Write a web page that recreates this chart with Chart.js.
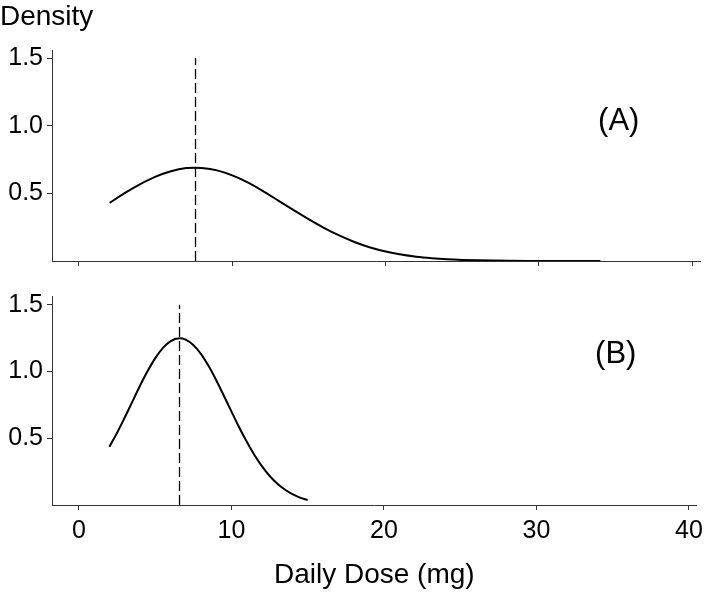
<!DOCTYPE html>
<html>
<head>
<meta charset="utf-8">
<script src="https://cdn.jsdelivr.net/npm/chart.js@4.4.1/dist/chart.umd.min.js"></script>
<style>
  body { margin: 0; background: #fff; }
  .panel { position: absolute; left: 0; width: 709px; }
</style>
</head>
<body>
<div class="panel" style="top:0;height:280px"><canvas id="chartA"></canvas></div>
<div class="panel" style="top:270px;height:322px"><canvas id="chartB"></canvas></div>
<script>
// --- Datos ---
const doseA = [2, 3, 4, 5, 6, 7, 7.6, 8, 9, 10, 11, 12, 13, 14, 15, 16, 17, 18, 19, 20, 21, 22, 23, 24, 25, 26, 28, 30, 32, 34];
const densityA = [0.43, 0.504, 0.569, 0.624, 0.664, 0.687, 0.69, 0.688, 0.67, 0.633, 0.581, 0.517, 0.447, 0.376, 0.307, 0.243, 0.187, 0.139, 0.1, 0.07, 0.048, 0.032, 0.021, 0.013, 0.008, 0.005, 0.0015, 0.0004, 0.0001, 0];
const doseB = [2, 2.5, 3, 3.5, 4, 4.5, 5, 5.5, 6, 6.6, 7, 7.5, 8, 8.5, 9, 9.5, 10, 10.5, 11, 11.5, 12, 12.5, 13, 13.5, 14, 14.5, 15];
const densityB = [0.436, 0.539, 0.653, 0.772, 0.891, 1.001, 1.098, 1.175, 1.226, 1.248, 1.238, 1.198, 1.132, 1.042, 0.936, 0.82, 0.701, 0.584, 0.475, 0.376, 0.291, 0.219, 0.161, 0.116, 0.081, 0.055, 0.037];
const medianA = 7.6;
const medianB = 6.6;
const xTicks = [0, 10, 20, 30, 40];
const yTicks = [0.5, 1.0, 1.5];
const panelLabels = ['(A)', '(B)'];

const FONT = "'Liberation Sans', Arial, sans-serif";
const INK = '#000';
const AXIS = '#333';

function pts(xs, ys) { return xs.map((x, i) => ({ x: x, y: ys[i] })); }

// Etiqueta de panel y texto "Density"
const textPlugin = {
    id: 'textos',
    afterDraw(chart, args, opts) {
        const ctx = chart.ctx;
        const xs = chart.scales.x, ys = chart.scales.y;
        ctx.save();
        ctx.fillStyle = INK;
        ctx.font = '31px ' + FONT;
        ctx.textAlign = 'center';
        ctx.textBaseline = 'middle';
        ctx.fillText(opts.label, xs.getPixelForValue(35.2), ys.getPixelForValue(opts.labelY));
        if (opts.title) {
            ctx.font = '28px ' + FONT;
            ctx.textAlign = 'left';
            ctx.textBaseline = 'alphabetic';
            ctx.fillText(opts.title, 0, 25);
        }
        ctx.restore();
    }
};

function crearPanel(id, xs, ys, median, yMax, padTop, xHeight, showX, label, labelY, title) {
    return new Chart(document.getElementById(id), {
        type: 'line',
        data: {
            datasets: [
                {
                    data: pts(xs, ys),
                    borderColor: INK, borderWidth: 2, pointRadius: 0,
                    cubicInterpolationMode: 'monotone', fill: false
                },
                {
                    data: pts([median, median], [0, 1.5]),
                    borderColor: INK, borderWidth: 1.3, borderDash: [10, 4], pointRadius: 0, fill: false
                }
            ]
        },
        options: {
            responsive: true, maintainAspectRatio: false, animation: false,
            layout: { padding: { top: padTop, right: 9, left: 0, bottom: 0 } },
            plugins: {
                legend: { display: false }, tooltip: { enabled: false },
                textos: { label: label, labelY: labelY, title: title }
            },
            scales: {
                x: {
                    type: 'linear', min: -1.76, max: 40.5,
                    afterBuildTicks: s => { s.ticks = xTicks.map(v => ({ value: v })); },
                    afterFit: s => { s.height = xHeight; },
                    border: { display: true, color: AXIS, width: 1 },
                    grid: { drawOnChartArea: false, drawTicks: true, tickLength: 5, color: AXIS },
                    ticks: { display: showX, color: INK, padding: 6, maxRotation: 0, font: { size: 25, family: FONT } },
                    title: { display: showX, text: 'Daily Dose (mg)', color: INK, padding: { top: 10, bottom: 0 }, font: { size: 28, family: FONT } }
                },
                y: {
                    type: 'linear', min: 0, max: yMax,
                    afterBuildTicks: s => { s.ticks = yTicks.map(v => ({ value: v })); },
                    afterFit: s => { s.width = 52; },
                    border: { display: true, color: AXIS, width: 1 },
                    grid: { drawOnChartArea: false, drawTicks: true, tickLength: 5, color: AXIS },
                    ticks: { color: INK, padding: 4, font: { size: 25, family: FONT }, callback: v => v.toFixed(1) }
                }
            }
        },
        plugins: [textPlugin]
    });
}

crearPanel('chartA', doseA, densityA, medianA, 1.56, 50, 10, false, panelLabels[0], 1.03, 'Density');
crearPanel('chartB', doseB, densityB, medianB, 1.565, 26, 87, true, panelLabels[1], 1.13, null);
</script>
</body>
</html>
